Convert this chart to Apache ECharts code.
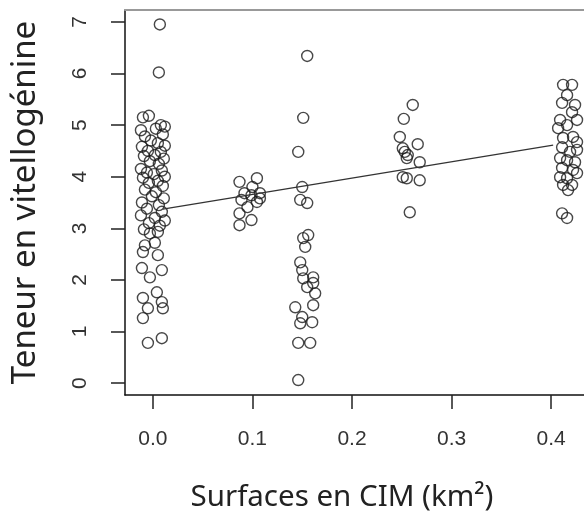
<!DOCTYPE html>
<html>
<head>
<meta charset="utf-8">
<script src="https://cdn.jsdelivr.net/npm/echarts@6/dist/echarts.min.js"></script>
<style>
  html, body { margin: 0; padding: 0; background: #fff; }
  #chart { width: 584px; height: 515px; }
</style>
</head>
<body>
<div id="chart"></div>
<script>
// ticks
let xTicks = [0, 0.1, 0.2, 0.3, 0.4];
let yTicks = [0, 1, 2, 3, 4, 5, 6, 7];

// points by site (surface jittered around the group value)
let site0 = [
	[0.007, 6.95], [0.006, 6.02],
	[-0.010, 5.15], [-0.004, 5.18], [0.008, 5.0], [0.012, 4.97], [-0.012, 4.9], [0.003, 4.93],
	[-0.008, 4.78], [0.010, 4.82], [-0.002, 4.7], [0.005, 4.65], [0.012, 4.6], [-0.011, 4.58],
	[-0.005, 4.5], [0.008, 4.48], [0.002, 4.42], [-0.009, 4.4], [0.011, 4.35], [-0.003, 4.3],
	[0.006, 4.25], [-0.012, 4.15], [0.009, 4.12], [-0.006, 4.08], [0.001, 4.05], [0.012, 4.0],
	[-0.010, 3.98], [0.005, 3.92], [-0.004, 3.88], [0.010, 3.82], [-0.008, 3.75], [0.003, 3.7],
	[-0.001, 3.62], [0.011, 3.58], [-0.011, 3.5], [0.006, 3.45], [-0.006, 3.38], [0.009, 3.32],
	[-0.012, 3.25], [0.002, 3.2], [0.012, 3.15], [-0.004, 3.1], [0.007, 3.05], [-0.009, 2.98],
	[-0.003, 2.9], [0.005, 2.93], [-0.008, 2.67], [0.002, 2.72], [-0.010, 2.54], [0.005, 2.48],
	[-0.011, 2.23], [0.009, 2.19], [-0.003, 2.05], [0.004, 1.76], [-0.010, 1.65], [0.009, 1.57],
	[-0.005, 1.45], [0.010, 1.45], [-0.010, 1.26], [-0.005, 0.78], [0.009, 0.87]
];
let site1 = [
	[0.087, 3.9], [0.1045, 3.97], [0.100, 3.8], [0.092, 3.68], [0.099, 3.64], [0.1075, 3.68],
	[0.089, 3.55], [0.1045, 3.51], [0.095, 3.41], [0.087, 3.29], [0.099, 3.16], [0.087, 3.06],
	[0.1075, 3.58]
];
let site2 = [
	[0.155, 6.34], [0.151, 5.14], [0.146, 4.48], [0.150, 3.8], [0.148, 3.55], [0.155, 3.49],
	[0.151, 2.81], [0.156, 2.87], [0.153, 2.64], [0.148, 2.34], [0.150, 2.19], [0.151, 2.03],
	[0.161, 2.05], [0.161, 1.94], [0.155, 1.86], [0.163, 1.74], [0.143, 1.47], [0.161, 1.51],
	[0.150, 1.28], [0.148, 1.16], [0.160, 1.18], [0.146, 0.78], [0.158, 0.78], [0.146, 0.06]
];
let site3 = [
	[0.261, 5.39], [0.252, 5.12], [0.248, 4.77], [0.266, 4.63], [0.251, 4.55], [0.253, 4.48],
	[0.256, 4.42], [0.255, 4.36], [0.268, 4.28], [0.251, 3.99], [0.255, 3.97], [0.268, 3.93],
	[0.258, 3.31]
];
let site4 = [
	[0.412, 5.78], [0.421, 5.78], [0.416, 5.58], [0.411, 5.43], [0.424, 5.39], [0.421, 5.25],
	[0.409, 5.10], [0.426, 5.10], [0.407, 4.94], [0.416, 5.0], [0.422, 4.77], [0.412, 4.75],
	[0.426, 4.67], [0.411, 4.57], [0.419, 4.48], [0.426, 4.52], [0.409, 4.36], [0.416, 4.32],
	[0.424, 4.28], [0.411, 4.17], [0.422, 4.13], [0.426, 4.07], [0.409, 3.99], [0.416, 3.97],
	[0.412, 3.84], [0.421, 3.84], [0.417, 3.74], [0.411, 3.29], [0.416, 3.2]
];
// fitted regression line
let fitLine = [[0.01, 3.37], [0.402, 4.61]];

let pointStyle = {
	color: 'rgba(0,0,0,0)',
	borderColor: '#1a1a1a',
	borderWidth: 1.4
};
function siteSeries(data) {
	return {
		type: 'scatter',
		data: data,
		symbol: 'circle',
		symbolSize: 11,
		itemStyle: pointStyle,
		emphasis: { disabled: true },
		silent: true
	};
}

let myChart = echarts.init(document.getElementById('chart'));
let option = {
	animation: false,
	backgroundColor: '#fff',
	grid: { left: 125, right: 0, top: 10, bottom: 120, outerBoundsMode: 'none' },
	xAxis: [{
		type: 'value',
		min: -0.028,
		max: 0.433,
		name: 'Surfaces en CIM (km²)',
		nameLocation: 'middle',
		nameGap: 88,
		nameTextStyle: { fontFamily: 'Noto Sans', fontSize: 29.5, color: '#222', padding: [0, 25, 0, 0] },
		axisLine: { show: true, onZero: false, lineStyle: { color: '#111', width: 1.5 } },
		axisTick: { show: true, customValues: xTicks, length: 14, lineStyle: { color: '#222', width: 1.5 } },
		axisLabel: {
			customValues: xTicks, margin: 34, fontFamily: 'Liberation Sans', fontSize: 21, color: '#333',
			formatter: function (v) { return v.toFixed(1); }
		},
		splitLine: { show: false }
	}, {
		type: 'value',
		position: 'top',
		min: -0.028,
		max: 0.433,
		axisLine: { show: true, onZero: false, lineStyle: { color: '#999', width: 2 } },
		axisTick: { show: false },
		axisLabel: { show: false },
		splitLine: { show: false }
	}],
	yAxis: {
		type: 'value',
		min: -0.23,
		max: 7.23,
		name: 'Teneur en vitellogénine',
		nameLocation: 'middle',
		nameGap: 83,
		nameTextStyle: { fontFamily: 'Noto Sans', fontSize: 33, color: '#222' },
		axisLine: { show: true, onZero: false, lineStyle: { color: '#111', width: 1.5 } },
		axisTick: { show: true, customValues: yTicks, length: 14, lineStyle: { color: '#222', width: 1.5 } },
		axisLabel: { customValues: yTicks, rotate: 90, margin: 34, fontFamily: 'Liberation Sans', fontSize: 21, color: '#333' },
		splitLine: { show: false }
	},
	series: [
		siteSeries(site0),
		siteSeries(site1),
		siteSeries(site2),
		siteSeries(site3),
		siteSeries(site4),
		{
			type: 'line',
			data: fitLine,
			symbol: 'none',
			silent: true,
			lineStyle: { color: '#333', width: 1.2 }
		}
	]
};
myChart.setOption(option);
</script>
</body>
</html>
